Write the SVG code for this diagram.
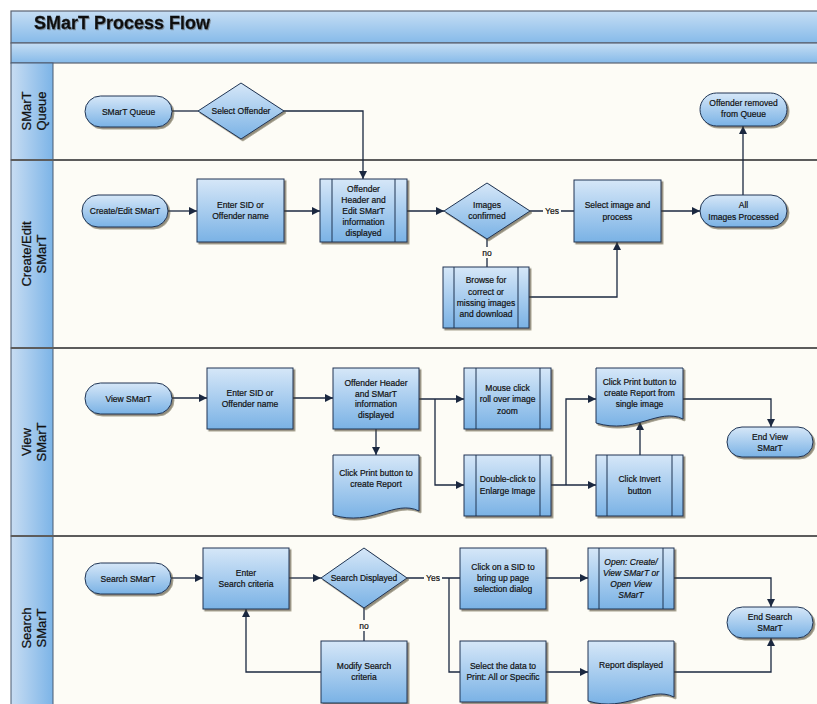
<svg xmlns="http://www.w3.org/2000/svg" width="817" height="704" viewBox="0 0 817 704">
<defs>
  <linearGradient id="gNode" x1="0" y1="0" x2="0" y2="1">
    <stop offset="0" stop-color="#d6e7f8"/>
    <stop offset="1" stop-color="#7ab2e5"/>
  </linearGradient>
  <linearGradient id="gBar" x1="0" y1="0" x2="0" y2="1">
    <stop offset="0" stop-color="#c6def4"/>
    <stop offset="1" stop-color="#86bae9"/>
  </linearGradient>
  <linearGradient id="gLane" x1="0" y1="0" x2="1" y2="0">
    <stop offset="0" stop-color="#c8ddf3"/>
    <stop offset="1" stop-color="#7cb4e7"/>
  </linearGradient>
  <filter id="sh" x="-10%" y="-10%" width="130%" height="130%">
    <feDropShadow dx="1.8" dy="1.8" stdDeviation="0.7" flood-color="#4a3f25" flood-opacity="0.6"/>
  </filter>
  <filter id="tsh" x="-5%" y="-20%" width="110%" height="150%">
    <feDropShadow dx="1" dy="1" stdDeviation="0.6" flood-color="#555" flood-opacity="0.5"/>
  </filter>
  <marker id="arr" markerUnits="userSpaceOnUse" markerWidth="9" markerHeight="8" refX="8" refY="4" orient="auto">
    <path d="M0,0 L8,4 L0,8 z" fill="#1b2840"/>
  </marker>
</defs>
<style>
  .node { fill: url(#gNode); stroke: #1f3453; stroke-width: 1; filter: url(#sh); }
  .sub { fill: none; stroke: #1f3453; stroke-width: 1; }
  text { font-family: "Liberation Sans", Arial, sans-serif; font-size: 8.5px; fill: #111; stroke: #111; stroke-width: 0.2; text-anchor: middle; }
  .lane { font-size: 13px; stroke-width: 0.25; }
  .title { font-size: 18px; font-weight: bold; text-anchor: start; stroke-width: 0.3; filter: url(#tsh); }
  .it { font-style: italic; }
  .c { fill: none; stroke: #1b2840; stroke-width: 1.3; }
  .ca { fill: none; stroke: #1b2840; stroke-width: 1.3; marker-end: url(#arr); }
  .lbl { fill: #fdfcf6; }
</style>

<!-- frame -->
<rect x="11" y="63" width="810" height="650" fill="#fdfcf6"/>
<rect x="11" y="11" width="810" height="32" fill="url(#gBar)" stroke="#5a6270" stroke-width="1.2"/>
<rect x="11" y="43" width="810" height="20" fill="url(#gBar)" stroke="#5a6270" stroke-width="1.2"/>
<text class="title" x="34" y="29">SMarT Process Flow</text>

<!-- lane headers -->
<g id="lane-queue">
  <rect x="11" y="63" width="42" height="97" fill="url(#gLane)" stroke="#4a5a70" stroke-width="1"/>
  <text class="lane" transform="translate(31,111) rotate(-90)">SMarT</text>
  <text class="lane" transform="translate(46,111) rotate(-90)">Queue</text>
</g>
<g id="lane-create">
  <rect x="11" y="160" width="42" height="188" fill="url(#gLane)" stroke="#4a5a70" stroke-width="1"/>
  <text class="lane" transform="translate(31,254) rotate(-90)">Create/Edit</text>
  <text class="lane" transform="translate(46,254) rotate(-90)">SMarT</text>
</g>
<g id="lane-view">
  <rect x="11" y="348" width="42" height="188" fill="url(#gLane)" stroke="#4a5a70" stroke-width="1"/>
  <text class="lane" transform="translate(31,442) rotate(-90)">View</text>
  <text class="lane" transform="translate(46,442) rotate(-90)">SMarT</text>
</g>
<g id="lane-search">
  <rect x="11" y="536" width="42" height="180" fill="url(#gLane)" stroke="#4a5a70" stroke-width="1"/>
  <text class="lane" transform="translate(31,628) rotate(-90)">Search</text>
  <text class="lane" transform="translate(46,628) rotate(-90)">SMarT</text>
</g>
<g id="lane-lines" stroke="#5c5c5c" stroke-width="2">
  <line x1="11" y1="160" x2="817" y2="160"/>
  <line x1="11" y1="348" x2="817" y2="348"/>
  <line x1="11" y1="536" x2="817" y2="536"/>
</g>

<!-- connectors -->
<g id="connectors">
  <path class="c" d="M172,111 H198"/>
  <path class="ca" d="M284,111 H363 V179"/>
  <path class="ca" d="M743,195 V126"/>

  <path class="ca" d="M168,211 H197"/>
  <path class="ca" d="M284,211 H320"/>
  <path class="ca" d="M407,211 H444"/>
  <path class="c" d="M530,211 H574"/>
  <rect class="lbl" x="543" y="205" width="18" height="11"/>
  <text x="552" y="214">Yes</text>
  <path class="ca" d="M661,211 H700"/>
  <path class="c" d="M487,239 V267"/>
  <rect class="lbl" x="480" y="247" width="14" height="11"/>
  <text x="487" y="256">no</text>
  <path class="ca" d="M529,297 H617 V242"/>

  <path class="ca" d="M172,398 H207"/>
  <path class="ca" d="M293,398 H333"/>
  <path class="ca" d="M376,429 V455"/>
  <path class="ca" d="M419,399 H464"/>
  <path class="ca" d="M435,399 V485 H464"/>
  <path class="ca" d="M551,485 H596"/>
  <path class="ca" d="M566,485 V399 H596"/>
  <path class="ca" d="M640,455 V422"/>
  <path class="ca" d="M683,399 H771 V427"/>

  <path class="ca" d="M171,578 H203"/>
  <path class="ca" d="M289,578 H321"/>
  <path class="c" d="M364,608 V641"/>
  <rect class="lbl" x="357" y="620" width="14" height="11"/>
  <text x="364" y="629">no</text>
  <path class="ca" d="M321,672 H246 V609"/>
  <path class="c" d="M407,578 H460"/>
  <rect class="lbl" x="424" y="572" width="18" height="11"/>
  <text x="433" y="581">Yes</text>
  <path class="c" d="M449,578 V672 H460"/>
  <path class="ca" d="M546,578 H588"/>
  <path class="ca" d="M674,578 H771 V607"/>
  <path class="ca" d="M546,672 H588"/>
  <path class="ca" d="M674,672 H771 V638"/>
</g>

<!-- lane 1 nodes -->
<g id="n-smart-queue">
  <rect class="node" x="85" y="96" width="87" height="31" rx="15.5"/>
  <text x="128.5" y="114.5">SMarT Queue</text>
</g>
<g id="n-select-offender">
  <polygon class="node" points="241,83 284,111 241,139 198,111"/>
  <text x="241" y="114">Select Offender</text>
</g>
<g id="n-offender-removed">
  <rect class="node" x="700" y="93" width="87" height="33" rx="16.5"/>
  <text x="743.5" y="106">Offender removed</text>
  <text x="743.5" y="117">from Queue</text>
</g>

<!-- lane 2 nodes -->
<g id="n-create-edit">
  <rect class="node" x="82" y="195" width="86" height="32" rx="16"/>
  <text x="125" y="214">Create/Edit SMarT</text>
</g>
<g id="n-enter-sid-1">
  <rect class="node" x="197" y="179" width="87" height="63"/>
  <text x="240.5" y="208">Enter SID or</text>
  <text x="240.5" y="219">Offender name</text>
</g>
<g id="n-offender-header-1">
  <rect class="node" x="320" y="179" width="87" height="63"/>
  <path class="sub" d="M332,179 V242 M395,179 V242"/>
  <text x="363.5" y="192">Offender</text>
  <text x="363.5" y="203">Header and</text>
  <text x="363.5" y="214">Edit SMarT</text>
  <text x="363.5" y="225">information</text>
  <text x="363.5" y="235.5">displayed</text>
</g>
<g id="n-images-confirmed">
  <polygon class="node" points="487,183 530,211 487,239 444,211"/>
  <text x="487" y="208">Images</text>
  <text x="487" y="219">confirmed</text>
</g>
<g id="n-select-image">
  <rect class="node" x="574" y="180" width="87" height="62"/>
  <text x="617.5" y="208">Select image and</text>
  <text x="617.5" y="220">process</text>
</g>
<g id="n-all-images">
  <rect class="node" x="700" y="195" width="87" height="32" rx="16"/>
  <text x="743.5" y="208">All</text>
  <text x="743.5" y="220">Images Processed</text>
</g>
<g id="n-browse">
  <rect class="node" x="443" y="267" width="86" height="61"/>
  <path class="sub" d="M454,267 V328 M518,267 V328"/>
  <text x="486" y="283">Browse for</text>
  <text x="486" y="294.5">correct or</text>
  <text x="486" y="305.5">missing images</text>
  <text x="486" y="316.5">and download</text>
</g>

<!-- lane 3 nodes -->
<g id="n-view-smart">
  <rect class="node" x="85" y="383" width="87" height="31" rx="15.5"/>
  <text x="128.5" y="401.5">View SMarT</text>
</g>
<g id="n-enter-sid-2">
  <rect class="node" x="207" y="368" width="86" height="61"/>
  <text x="250" y="396">Enter SID or</text>
  <text x="250" y="407">Offender name</text>
</g>
<g id="n-offender-header-2">
  <rect class="node" x="333" y="368" width="86" height="61"/>
  <text x="376" y="386">Offender Header</text>
  <text x="376" y="396.5">and SMarT</text>
  <text x="376" y="407">information</text>
  <text x="376" y="418">displayed</text>
</g>
<g id="n-click-print-1">
  <path class="node" d="M333,455 H419 V511 C394.9,499 371.7,527 333,515 Z"/>
  <text x="376" y="476">Click Print button to</text>
  <text x="376" y="487">create Report</text>
</g>
<g id="n-mouse-click">
  <rect class="node" x="464" y="368" width="87" height="61"/>
  <path class="sub" d="M476,368 V429 M540,368 V429"/>
  <text x="507.5" y="391">Mouse click</text>
  <text x="507.5" y="402">roll over image</text>
  <text x="507.5" y="413.5">zoom</text>
</g>
<g id="n-double-click">
  <rect class="node" x="464" y="455" width="87" height="61"/>
  <path class="sub" d="M476,455 V516 M540,455 V516"/>
  <text x="507.5" y="482">Double-click to</text>
  <text x="507.5" y="494">Enlarge Image</text>
</g>
<g id="n-click-print-2">
  <path class="node" d="M596,368 H683 V419 C658.6,407 635.2,435 596,423 Z"/>
  <text x="639.5" y="385">Click Print button to</text>
  <text x="639.5" y="396">create Report from</text>
  <text x="639.5" y="406.5">single image</text>
</g>
<g id="n-click-invert">
  <rect class="node" x="596" y="455" width="87" height="61"/>
  <path class="sub" d="M607,455 V516 M672,455 V516"/>
  <text x="639.5" y="482">Click Invert</text>
  <text x="639.5" y="494">button</text>
</g>
<g id="n-end-view">
  <rect class="node" x="727" y="427" width="86" height="30" rx="15"/>
  <text x="770" y="440">End View</text>
  <text x="770" y="451">SMarT</text>
</g>

<!-- lane 4 nodes -->
<g id="n-search-smart">
  <rect class="node" x="85" y="563" width="86" height="31" rx="15.5"/>
  <text x="128" y="581.5">Search SMarT</text>
</g>
<g id="n-enter-search">
  <rect class="node" x="203" y="548" width="86" height="61"/>
  <text x="246" y="575.5">Enter</text>
  <text x="246" y="586.5">Search criteria</text>
</g>
<g id="n-search-displayed">
  <polygon class="node" points="364,548 407,578 364,608 321,578"/>
  <text x="364" y="581">Search Displayed</text>
</g>
<g id="n-modify-search">
  <rect class="node" x="321" y="641" width="86" height="62"/>
  <text x="364" y="669">Modify Search</text>
  <text x="364" y="680">criteria</text>
</g>
<g id="n-click-sid">
  <rect class="node" x="460" y="548" width="86" height="61"/>
  <text x="503" y="570">Click on a SID to</text>
  <text x="503" y="581">bring up page</text>
  <text x="503" y="592">selection dialog</text>
</g>
<g id="n-open">
  <rect class="node" x="588" y="548" width="86" height="61"/>
  <path class="sub" d="M599,548 V609 M663,548 V609"/>
  <text class="it" x="631" y="565">Open: Create/</text>
  <text class="it" x="631" y="576">View SMarT or</text>
  <text class="it" x="631" y="586.5">Open View</text>
  <text class="it" x="631" y="597.5">SMarT</text>
</g>
<g id="n-end-search">
  <rect class="node" x="727" y="607" width="86" height="31" rx="15.5"/>
  <text x="770" y="620">End Search</text>
  <text x="770" y="631">SMarT</text>
</g>
<g id="n-select-data">
  <rect class="node" x="460" y="641" width="86" height="61"/>
  <text x="503" y="669">Select the data to</text>
  <text x="503" y="680">Print: All or Specific</text>
</g>
<g id="n-report-displayed">
  <path class="node" d="M588,641 H674 V697 C649.9,685 626.7,713 588,701 Z"/>
  <text x="631" y="668">Report displayed</text>
</g>
</svg>
